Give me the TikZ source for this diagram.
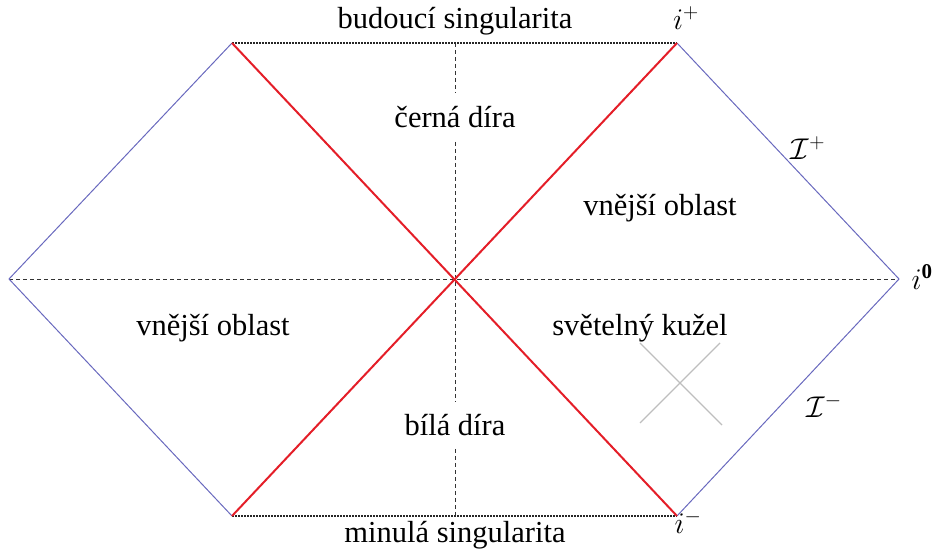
\RequirePackage{fix-cm}
\documentclass[tikz,border=0pt]{standalone}
\usepackage{fontspec}
\setmainfont{Liberation Serif}
\definecolor{bluel}{RGB}{105,105,190}
\definecolor{redl}{RGB}{228,30,40}
\definecolor{grayl}{RGB}{190,190,190}
\begin{document}
\begin{tikzpicture}[x=1pt,y=-1pt,
  lbl/.style={font=\fontsize{30.5}{31}\selectfont, inner sep=2pt},
  mlbl/.style={font=\fontsize{30}{31}\selectfont, inner sep=1pt},
  edge/.style={draw=bluel, line width=1pt},
  horizon/.style={draw=redl, line width=2pt},
  sing/.style={draw=black!85, line width=1.6pt, dash pattern=on 1.5pt off 1.5pt},
  axis/.style={draw=black!80, line width=1pt, dash pattern=on 4pt off 3pt},
  cone/.style={draw=grayl, line width=1.2pt}]
\useasboundingbox (0,0) rectangle (933,556);
\coordinate (TL) at (232,43);
\coordinate (TR) at (677,43);
\coordinate (L) at (9,279);
\coordinate (R) at (899,279);
\coordinate (BL) at (232,516);
\coordinate (BR) at (677,516);
\coordinate (C) at (455,279);
\coordinate (T) at (455,43);
\coordinate (B) at (455,516);
% axes
\draw[axis] (L) -- (R);
\node[lbl, inner ysep=14pt] (bh) at (455,117) {černá díra};
\node[lbl, inner ysep=13pt] (wh) at (455,425) {bílá díra};
\draw[axis] (T) -- (bh.north);
\draw[axis] (bh.south) -- (C) -- (wh.north);
\draw[axis] (wh.south) -- (B);
% singularities
\draw[sing] (TL) -- (TR);
\draw[sing] (BL) -- (BR);
% null infinity
\draw[edge] (TL) -- (L) -- (BL);
\draw[edge] (TR) -- (R) -- (BR);
% horizons
\draw[horizon] (TL) -- (BR);
\draw[horizon] (TR) -- (BL);
% light cone
\coordinate (c1) at (640,343);
\coordinate (c2) at (722,425);
\coordinate (c3) at (720,343);
\coordinate (c4) at (640,423);
\draw[cone] (c1) -- (c2);
\draw[cone] (c3) -- (c4);
% labels
\node[lbl] (fs) at (455,21) {budoucí singularita};
\node[lbl] (ps) at (455,535) {minulá singularita};
\node[lbl] (ext1) at (660,208) {vnější oblast};
\node[lbl] (ext2) at (213,328) {vnější oblast};
\node[lbl] (lc) at (640,328) {světelný kužel};
\node[mlbl] (ip) at (686,18) {$i^{\mathbf{+}}$};
\node[mlbl] (im) at (688,522) {$i^{\mathbf{-}}$};
\node[mlbl] (i0) at (922,277) {$i^{\mathbf{0}}$};
\node[mlbl] (Ip) at (808,148) {$\mathcal{I}^{\mathbf{+}}$};
\node[mlbl] (Im) at (824,406) {$\mathcal{I}^{\mathbf{-}}$};
\end{tikzpicture}
\end{document}
